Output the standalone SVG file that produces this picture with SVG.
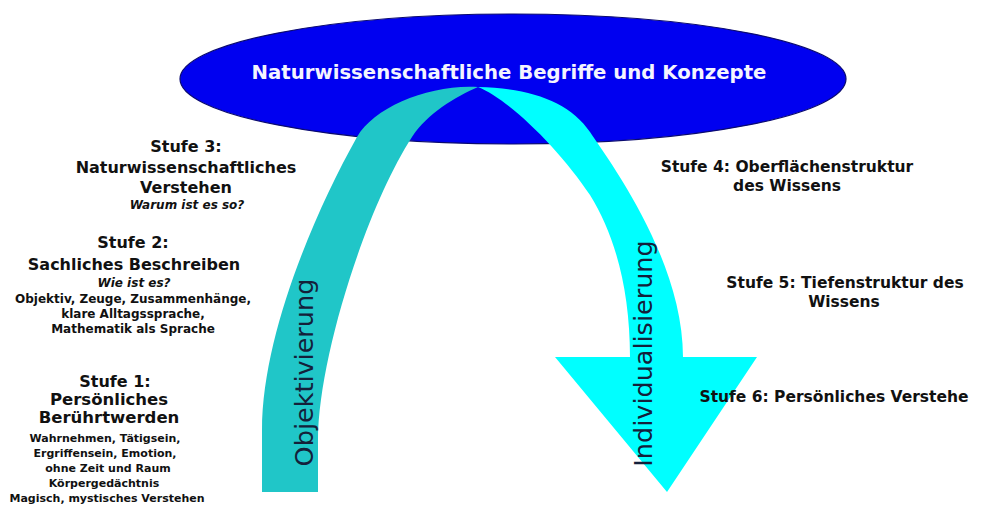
<svg xmlns="http://www.w3.org/2000/svg" width="987" height="512" viewBox="0 0 987 512">
<style>
.h{font-family:"DejaVu Sans","Liberation Sans",sans-serif;font-weight:bold;fill:#111;text-anchor:middle}
.it{font-style:italic}
.rot{font-family:"DejaVu Sans","Liberation Sans",sans-serif;font-size:25.5px;fill:#14203a;text-anchor:middle}
</style>
<rect width="987" height="512" fill="#fff"/>
<g id="concepts">
<ellipse cx="513" cy="79" rx="333" ry="65" fill="#0000F0" stroke="#0a0a70" stroke-width="1.2"/>
</g>
<g id="arrows">
<path id="objektivierung-band" fill="#20C6C8" d="M262,492 L262,430 C262,335 315,212 357,137 C374,107 430,84 478,87 C455,97 428,113 412,137 C365,210 318,360 318,440 L318,492 Z"/>
<path id="individualisierung-arrow" fill="#00FFFF" d="M478,87 C530,88 570,102 590,132 C610,162 683,260 683,357 L757,357 L667,492 L555,357 L630,357 C630,290 615,235 590,195 C560,150 510,100 478,87 Z"/>
</g>
<g id="title">
<text x="509" y="79" class="h" style="font-size:19.7px;fill:#F4F4FF">Naturwissenschaftliche Begriffe und Konzepte</text>
</g>
<g id="labels">
<text class="rot" transform="translate(313,372.5) rotate(-90)">Objektivierung</text>
<text class="rot" transform="translate(652,353.5) rotate(-90)">Individualisierung</text>
</g>
<g id="stufe3">
<text class="h" x="186" y="152" font-size="16">Stufe 3:</text>
<text class="h" x="186" y="173" font-size="16">Naturwissenschaftliches</text>
<text class="h" x="186" y="193" font-size="16">Verstehen</text>
<text class="h it" x="187" y="209" font-size="12">Warum ist es so?</text>
</g>
<g id="stufe2">
<text class="h" x="133" y="248" font-size="16">Stufe 2:</text>
<text class="h" x="134" y="270" font-size="16">Sachliches Beschreiben</text>
<text class="h it" x="134" y="287" font-size="12">Wie ist es?</text>
<text class="h" x="133" y="303" font-size="12">Objektiv, Zeuge, Zusammenhänge,</text>
<text class="h" x="133" y="318" font-size="12">klare Alltagssprache,</text>
<text class="h" x="133" y="333" font-size="12">Mathematik als Sprache</text>
</g>
<g id="stufe1">
<text class="h" x="115" y="387" font-size="16">Stufe 1:</text>
<text class="h" x="109" y="405" font-size="16.5">Persönliches</text>
<text class="h" x="109" y="423" font-size="16.5">Berührtwerden</text>
<text class="h" x="105" y="442" font-size="11">Wahrnehmen, Tätigsein,</text>
<text class="h" x="105" y="457" font-size="11">Ergriffensein, Emotion,</text>
<text class="h" x="108" y="472" font-size="11">ohne Zeit und Raum</text>
<text class="h" x="104" y="487" font-size="11">Körpergedächtnis</text>
<text class="h" x="107" y="502" font-size="11">Magisch, mystisches Verstehen</text>
</g>
<g id="stufe4">
<text class="h" x="787" y="172" font-size="15.5">Stufe 4: Oberflächenstruktur</text>
<text class="h" x="787" y="191" font-size="15.5">des Wissens</text>
</g>
<g id="stufe5">
<text class="h" x="845" y="288" font-size="15.5">Stufe 5: Tiefenstruktur des</text>
<text class="h" x="844" y="307" font-size="15.5">Wissens</text>
</g>
<g id="stufe6">
<text class="h" x="834" y="402" font-size="15.5">Stufe 6: Persönliches Verstehe</text>
</g>
</svg>
